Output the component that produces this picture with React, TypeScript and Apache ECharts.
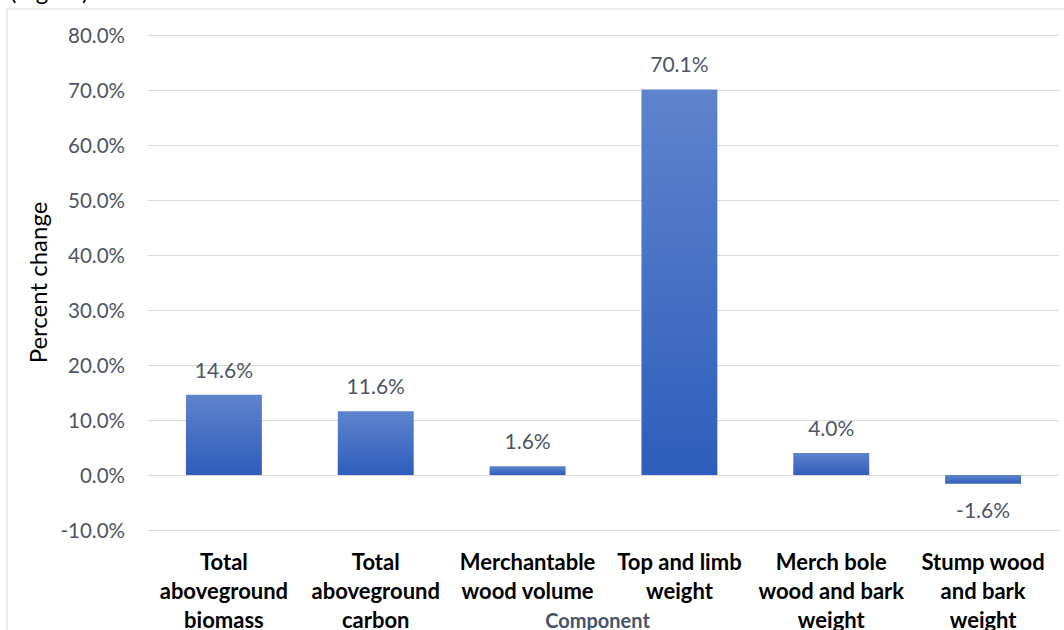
import React, { useEffect, useRef } from "react";
import * as echarts from "echarts";

const categories = [
  "Total\naboveground\nbiomass",
  "Total\naboveground\ncarbon",
  "Merchantable\nwood volume",
  "Top and limb\nweight",
  "Merch bole\nwood and bark\nweight",
  "Stump wood\nand bark\nweight",
];
const values = [14.6, 11.6, 1.6, 70.1, 4.0, -1.6];
const yMin = -10;
const yMax = 80;
const yInterval = 10;

const FONT = "Lato, 'Open Sans', sans-serif";

export default function App() {
  const ref = useRef<HTMLDivElement>(null);
  useEffect(() => {
    if (!ref.current) return;
    const chart = echarts.init(ref.current, undefined, { renderer: "svg" });
    const barGradient = new echarts.graphic.LinearGradient(0, 0, 0, 1, [
      { offset: 0, color: "#5f84cd" },
      { offset: 1, color: "#2e5dbb" },
    ]);
    chart.setOption({
      animation: false,
      backgroundColor: "#ffffff",
      textStyle: { fontFamily: FONT },
      graphic: [
        {
          type: "rect",
          shape: { x: 7, y: 9, width: 1100, height: 700 },
          style: { fill: "none", stroke: "#d9d9d9", lineWidth: 1 },
          silent: true,
        },
        {
          type: "text",
          x: 10,
          y: 2,
          style: {
            text: "(Figure)",
            font: `24px ${FONT}`,
            fill: "#000000",
            textVerticalAlign: "bottom",
            verticalAlign: "bottom",
          },
          silent: true,
        },
      ],
      grid: { left: 148, right: 5, top: 35, bottom: 100, containLabel: false, outerBoundsMode: "none" },
      xAxis: {
        type: "category",
        data: categories,
        axisLine: { show: false },
        axisTick: { show: false },
        axisLabel: {
          interval: 0,
          color: "#000000",
          fontWeight: "bold",
          fontSize: 22,
          lineHeight: 29,
          margin: 17,
          fontFamily: FONT,
          hideOverlap: false,
        },
        name: "Component",
        nameLocation: "middle",
        nameGap: 80,
        nameMoveOverlap: false,
        nameTextStyle: {
          color: "#44546a",
          fontWeight: "bold",
          fontSize: 20,
          fontFamily: FONT,
          padding: [0, 12, 0, 0],
        },
      },
      yAxis: {
        type: "value",
        min: yMin,
        max: yMax,
        interval: yInterval,
        axisLine: { show: false },
        axisTick: { show: false },
        splitLine: { lineStyle: { color: "#d9d9d9", width: 1 } },
        axisLabel: {
          color: "#4d5566",
          fontSize: 20.5,
          margin: 23,
          fontFamily: FONT,
          formatter: (v: number) => v.toFixed(1) + "%",
        },
        name: "Percent change",
        nameLocation: "middle",
        nameGap: 99,
        nameRotate: 90,
        nameMoveOverlap: false,
        nameTextStyle: { color: "#000000", fontSize: 24, fontFamily: FONT },
      },
      series: [
        {
          type: "bar",
          barWidth: "50%",
          data: values.map((v) => ({
            value: v,
            label: { position: v < 0 ? "bottom" : "top" },
          })),
          itemStyle: { color: barGradient },
          label: {
            show: true,
            distance: 15,
            color: "#4d5566",
            fontSize: 21,
            fontFamily: FONT,
            formatter: (p: any) => Number(p.value).toFixed(1) + "%",
          },
        },
      ],
    });
    return () => chart.dispose();
  }, []);
  return (
    <div
      ref={ref}
      style={{ position: "fixed", left: 0, top: 0, width: 1064, height: 630 }}
    />
  );
}
